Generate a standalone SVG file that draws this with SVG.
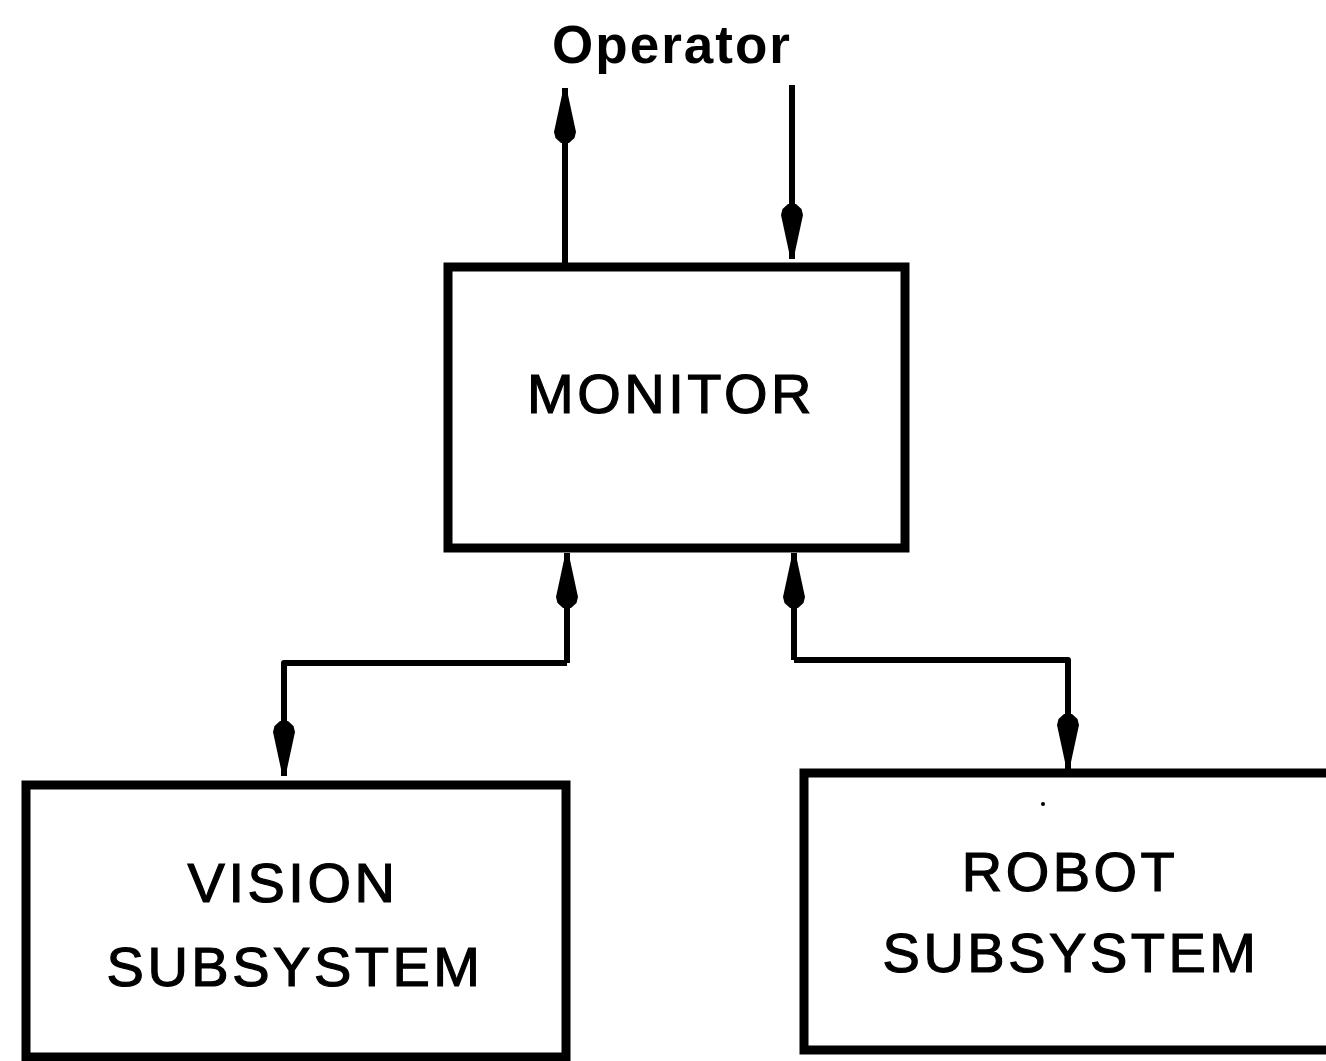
<svg xmlns="http://www.w3.org/2000/svg" width="1326" height="1061" viewBox="0 0 1326 1061">
  <style>
    .box { fill: #ffffff; stroke: #000000; stroke-width: 9; }
    .link { fill: none; stroke: #000000; stroke-width: 6; stroke-linejoin: round; }
    .label { font-family: "Liberation Sans", Arial, sans-serif; font-size: 56px; fill: #000000; stroke: #000000; stroke-width: 1.2; text-anchor: middle; letter-spacing: 3.5px; }
    .title { font-family: "Liberation Sans", Arial, sans-serif; font-size: 53px; font-weight: bold; fill: #000000; text-anchor: middle; letter-spacing: 2px; }
  </style>
  <defs>
    <!-- long teardrop arrowhead; tip at the path end -->
    <marker id="head" markerUnits="userSpaceOnUse" markerWidth="62" markerHeight="28" viewBox="-60 -14 62 28" refX="0" refY="0" orient="auto">
      <path d="M0,-1.5 L-44,-11 L-50,-9.5 L-55,-4 L-55,4 L-50,9.5 L-44,11 L0,1.5 Z" fill="#000000"/>
    </marker>
  </defs>

  <rect width="1326" height="1061" fill="#ffffff"/>

  <text class="title" x="672" y="63">Operator</text>

  <g id="connectors">
    <!-- monitor to operator -->
    <path class="link" d="M565,263 L565,88" marker-end="url(#head)"/>
    <!-- operator to monitor -->
    <path class="link" d="M792,85 L792,259" marker-end="url(#head)"/>
    <!-- vision link -->
    <path class="link" d="M567,663 L567,553" marker-end="url(#head)"/>
    <path class="link" d="M567,663 L284,663 L284,776" marker-end="url(#head)"/>
    <!-- robot link -->
    <path class="link" d="M794,660 L794,553" marker-end="url(#head)"/>
    <path class="link" d="M794,660 L1068,660 L1068,769" marker-end="url(#head)"/>
  </g>

  <g id="monitor">
    <rect class="box" x="448" y="267" width="457" height="281"/>
    <text class="label" x="671" y="413">MONITOR</text>
  </g>

  <g id="vision">
    <rect class="box" x="26" y="785" width="540" height="272"/>
    <text class="label" x="293" y="902">VISION</text>
    <text class="label" x="295" y="986">SUBSYSTEM</text>
  </g>

  <g id="robot">
    <rect class="box" x="804" y="773" width="540" height="277"/>
    <text class="label" x="1070" y="891">ROBOT</text>
    <text class="label" x="1071" y="972">SUBSYSTEM</text>
    <circle cx="1043" cy="804" r="2" fill="#000000"/>
  </g>
</svg>
